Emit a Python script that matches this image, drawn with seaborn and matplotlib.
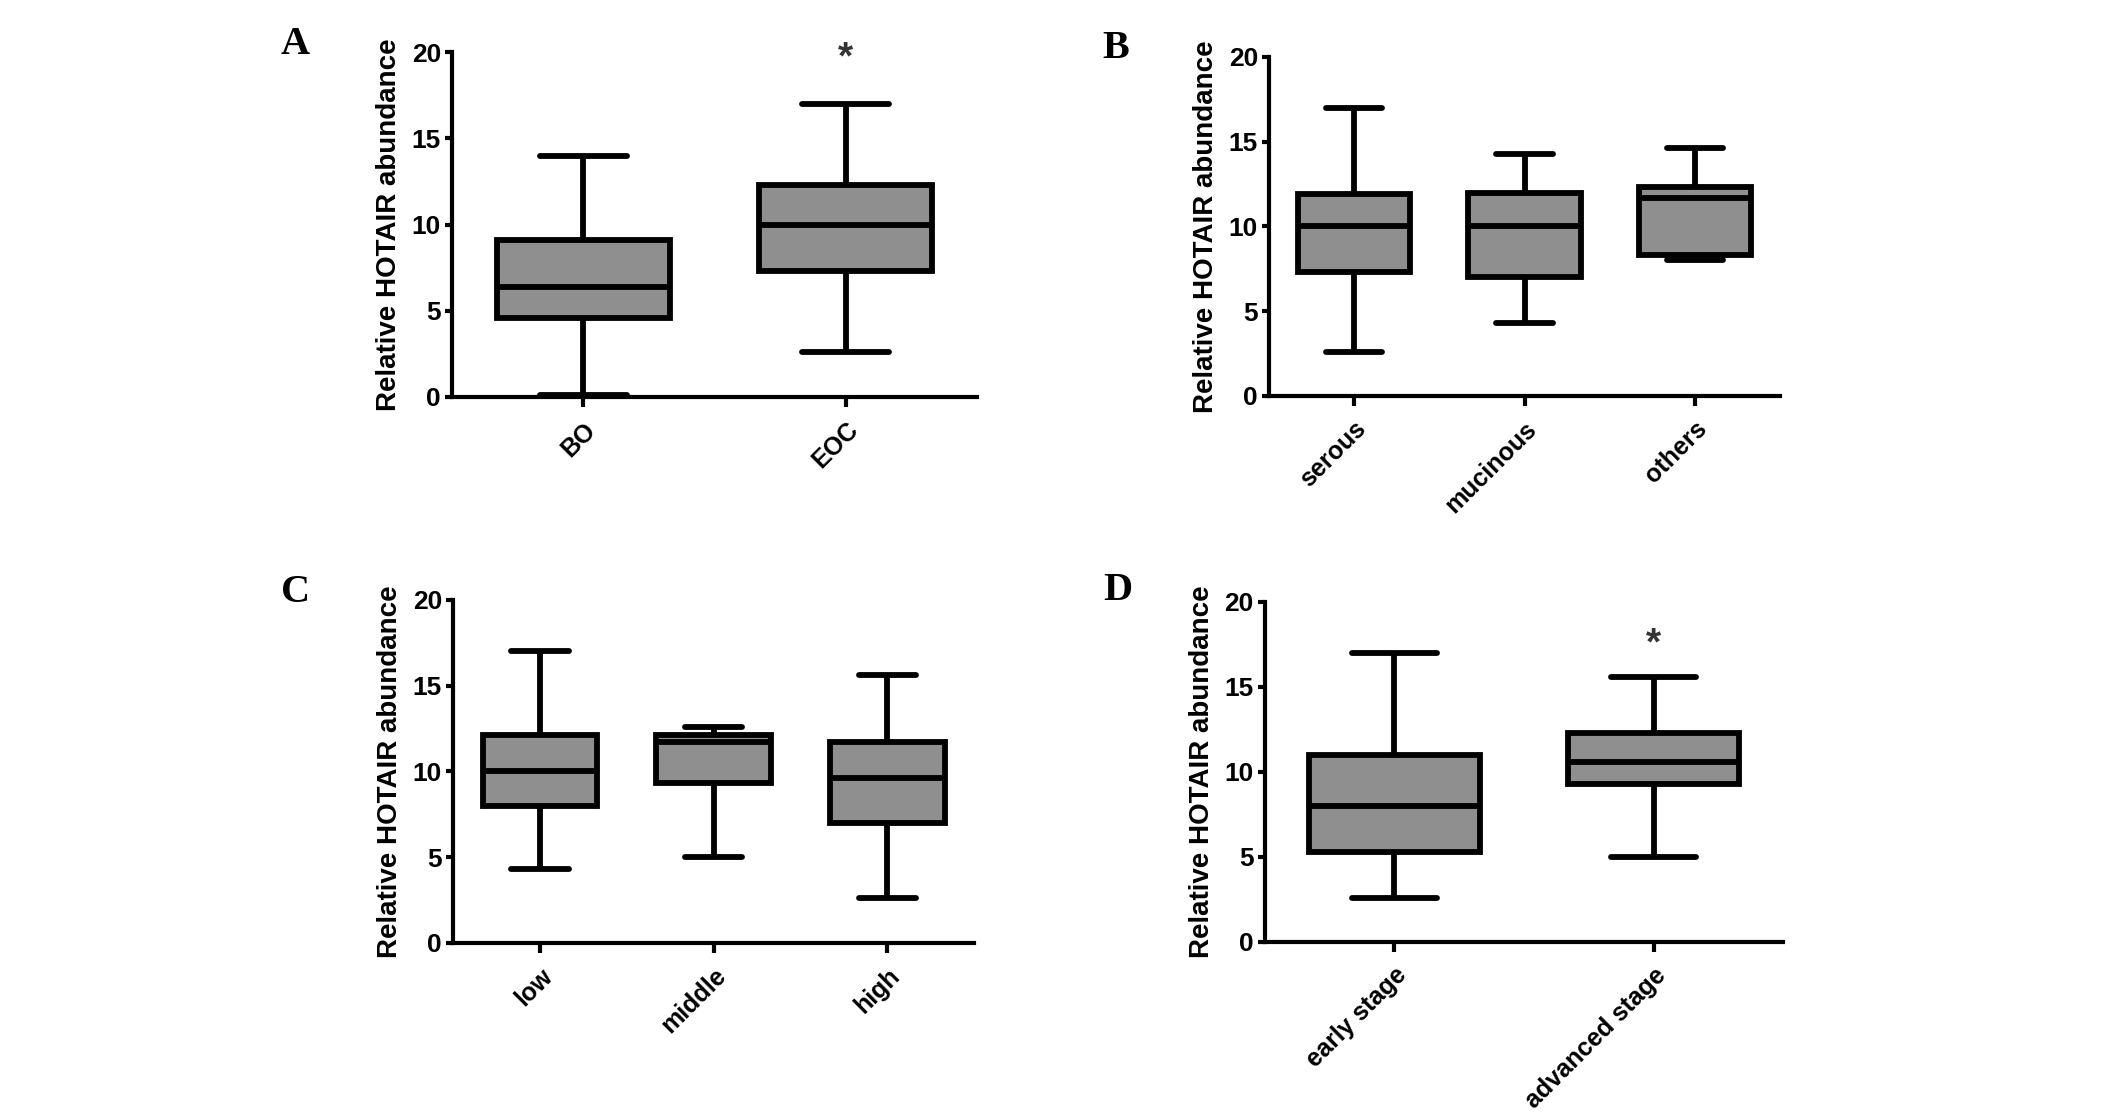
import pandas as pd
import matplotlib
matplotlib.use("Agg")
import matplotlib.pyplot as plt
import seaborn as sns

# five-number summaries: min, Q1, median, Q3, max
groups_A = ["BO", "EOC"]
BO = [0.1, 4.6, 6.4, 9.1, 14.0]
EOC = [2.6, 7.3, 10.0, 12.3, 17.0]

groups_B = ["serous", "mucinous", "others"]
serous = [2.6, 7.3, 10.0, 11.9, 17.0]
mucinous = [4.3, 7.0, 10.0, 12.0, 14.3]
others = [8.0, 8.3, 11.7, 12.3, 14.6]

groups_C = ["low", "middle", "high"]
low = [4.3, 8.0, 10.0, 12.1, 17.0]
middle = [5.0, 9.3, 11.7, 12.1, 12.6]
high = [2.6, 7.0, 9.6, 11.7, 15.6]

groups_D = ["early stage", "advanced stage"]
early = [2.6, 5.3, 8.0, 11.0, 17.0]
advanced = [5.0, 9.3, 10.6, 12.3, 15.6]

# significance stars: (group index, height)
star_A = (1, 19.6)
star_D = (1, 17.5)

yticks = [0, 5, 10, 15, 20]
ylabel = "Relative HOTAIR abundance"

sns.set_theme(style="ticks")
plt.rcParams["font.family"] = ["Liberation Sans", "DejaVu Sans"]
plt.rcParams["font.weight"] = "bold"
for k in ["text.color", "axes.labelcolor", "xtick.color", "ytick.color", "axes.edgecolor"]:
    plt.rcParams[k] = "black"


def long_df(groups, series):
    rows = []
    for g, vals in zip(groups, series):
        for v in vals:
            rows.append({"group": g, "value": v})
    return pd.DataFrame(rows)


fig = plt.figure(figsize=(21.26, 11.12), dpi=100)

panels = [
    ("A", [0.2126, 0.6430, 0.2469, 0.3102], groups_A, [BO, EOC], star_A, (0.1388, 0.9604)),
    ("B", [0.5969, 0.6439, 0.2404, 0.3049], groups_B, [serous, mucinous, others], None, (0.5249, 0.9568)),
    ("C", [0.2131, 0.1520, 0.2451, 0.3085], groups_C, [low, middle, high], None, (0.1392, 0.4676)),
    ("D", [0.5950, 0.1529, 0.2437, 0.3058], groups_D, [early, advanced], star_D, (0.5259, 0.4694)),
]

for letter, rect, groups, series, star, lpos in panels:
    ax = fig.add_axes(rect)
    df = long_df(groups, series)
    sns.boxplot(data=df, x="group", y="value", ax=ax, whis=(0, 100),
                width=0.66, color="#8f8f8f", saturation=1, linecolor="black",
                linewidth=4.2, showfliers=False,
                capprops={"solid_capstyle": "round"})
    ax.set_xlim(-0.5, len(groups) - 0.5)
    ax.set_ylim(0, 20)
    ax.set_yticks(yticks)
    ax.set_xlabel("")
    ax.set_ylabel(ylabel, fontsize=20, fontweight="bold", labelpad=7, color="black")
    sns.despine(ax=ax)
    for s in ["left", "bottom"]:
        ax.spines[s].set_linewidth(3)
        ax.spines[s].set_color("black")
    ax.tick_params(axis="y", length=5, width=3, color="black", labelcolor="black", pad=3)
    ax.tick_params(axis="x", length=7, width=3, color="black", labelcolor="black", pad=8)
    for t in ax.get_yticklabels():
        t.set_fontfamily(["Liberation Sans Narrow", "Liberation Sans"])
        t.set_fontsize(19)
        t.set_fontweight("bold")
    ax.set_xticks(range(len(groups)))
    ax.set_xticklabels(groups, rotation=45, ha="right", rotation_mode="anchor",
                       fontsize=18, fontweight="bold", color="black")
    if star is not None:
        ax.text(star[0], star[1], "*", ha="center", va="center", fontsize=28,
                color="#333333", clip_on=False)
    fig.text(lpos[0], lpos[1], letter, ha="center", va="center", fontsize=29,
             fontweight="bold", family="Liberation Serif", color="black")

fig.savefig("out.png", dpi=100)
